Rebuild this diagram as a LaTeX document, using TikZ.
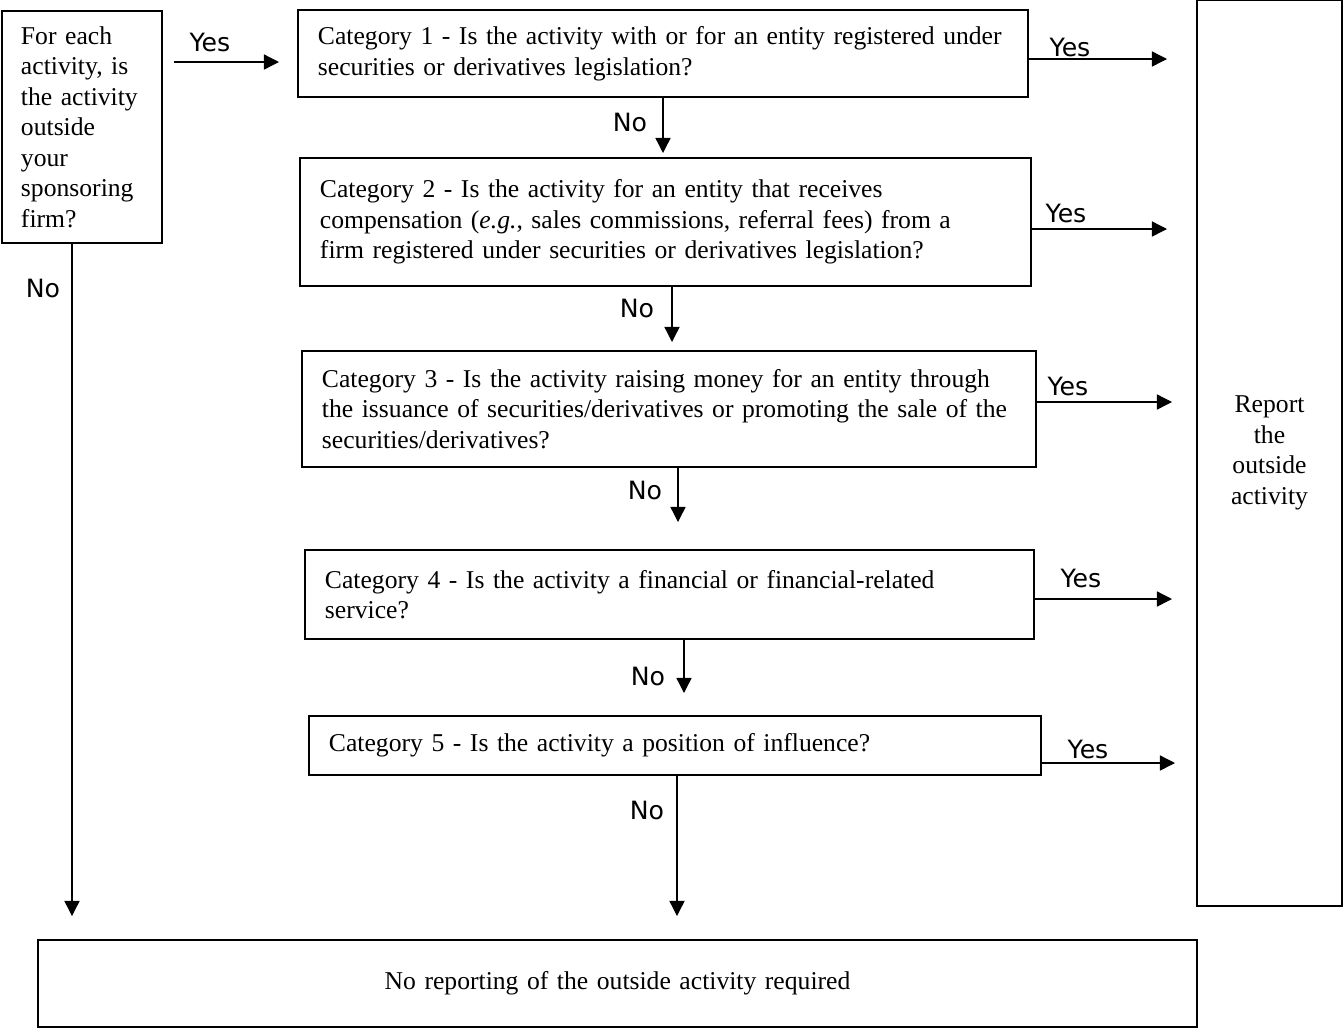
\documentclass[tikz,border=0pt]{standalone}
\usepackage{fontspec}
\setmainfont{Liberation Serif}
\newfontfamily\labelfont{DejaVu Sans}
\usetikzlibrary{arrows.meta}

\begin{document}
\begin{tikzpicture}[x=0.0159cm, y=-0.0159cm,
  qbox/.style={draw, line width=0.7pt, align=left, inner xsep=0.318cm, inner ysep=0pt,
    font=\fontsize{11.6}{13.8}\selectfont},
  flow/.style={line width=0.6pt, -{Triangle[length=6.8pt,width=6.8pt]}},
  lbl/.style={font=\labelfont\fontsize{11.4}{13}\selectfont, inner sep=0pt}]
\useasboundingbox (0,0) rectangle (1343,1029);

% Question boxes
\node[qbox, text width=1.940cm, inner xsep=0.302cm, minimum height=3.689cm] (start) at (82,127)
  {For each\\ activity, is\\ the activity\\ outside\\ your\\ sponsoring\\ firm?};
\node[qbox, text width=10.971cm, minimum height=1.383cm] (cat1) at (663,53.5)
  {Category 1 - Is the activity with or for an entity registered under\\
   securities or derivatives legislation?};
\node[qbox, text width=10.987cm, minimum height=2.035cm] (cat2) at (665.5,222)
  {Category 2 - Is the activity for an entity that receives\\
   compensation (\textit{e.g.}, sales commissions, referral fees) from a\\
   firm registered under securities or derivatives legislation?};
\node[qbox, text width=11.035cm, minimum height=1.844cm] (cat3) at (669,409)
  {Category 3 - Is the activity raising money for an entity through\\
   the issuance of securities/derivatives or promoting the sale of the\\
   securities/derivatives?};
\node[qbox, text width=10.955cm, minimum height=1.415cm] (cat4) at (669.5,594.5)
  {Category 4 - Is the activity a financial or financial-related\\ service?};
\node[qbox, text width=11.003cm, minimum height=0.938cm] (cat5) at (675,745.5)
  {Category 5 - Is the activity a position of influence?};

% Outcomes
\node[qbox, align=center, text width=1.670cm, minimum height=14.405cm] (report) at (1269.5,453)
  {Report\\ the\\ outside\\ activity};
\node[qbox, align=center, text width=17.792cm, minimum height=1.383cm] (none) at (617.5,983.5)
  {No reporting of the outside activity required};

% Arrow ends
\coordinate (s0) at (174,62);
\coordinate (s1) at (279,62);
\coordinate (y1) at (1167,59);
\coordinate (y2) at (1167,229);
\coordinate (y3) at (1172,402);
\coordinate (y4) at (1172,599);
\coordinate (y5) at (1175,763);
\coordinate (n0) at (72,916);
\coordinate (n1) at (663,153);
\coordinate (n2) at (672,342);
\coordinate (n3) at (678,522);
\coordinate (n4) at (684,693);
\coordinate (n5) at (677,916);

% Yes branches
\draw[flow] (s0) -- (s1);
\draw[flow] (cat1.east |- y1) -- (y1);
\draw[flow] (cat2.east |- y2) -- (y2);
\draw[flow] (cat3.east |- y3) -- (y3);
\draw[flow] (cat4.east |- y4) -- (y4);
\draw[flow] (cat5.east |- y5) -- (y5);

% No branches
\draw[flow] (start.south -| n0) -- (n0);
\draw[flow] (cat1.south -| n1) -- (n1);
\draw[flow] (cat2.south -| n2) -- (n2);
\draw[flow] (cat3.south -| n3) -- (n3);
\draw[flow] (cat4.south -| n4) -- (n4);
\draw[flow] (cat5.south -| n5) -- (n5);

% Labels
\node[lbl] (yes0) at (210,42) {Yes};
\node[lbl] (yes1) at (1070,47) {Yes};
\node[lbl] (yes2) at (1066,213) {Yes};
\node[lbl] (yes3) at (1068,386) {Yes};
\node[lbl] (yes4) at (1081,578) {Yes};
\node[lbl] (yes5) at (1088,749) {Yes};
\node[lbl] (no0) at (43,288) {No};
\node[lbl] (no1) at (630,122) {No};
\node[lbl] (no2) at (637,308) {No};
\node[lbl] (no3) at (645,490) {No};
\node[lbl] (no4) at (648,676) {No};
\node[lbl] (no5) at (647,810) {No};
\end{tikzpicture}
\end{document}
